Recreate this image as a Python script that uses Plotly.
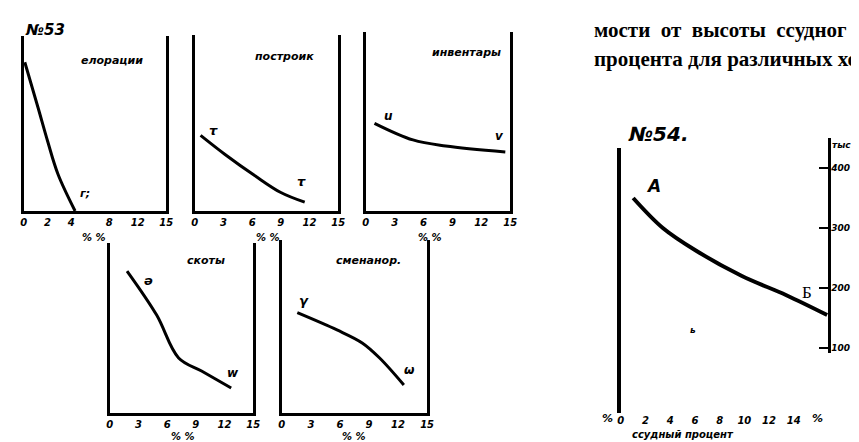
import plotly.graph_objects as go

W, H = 859, 442

# --- data ---
ticks_std = [0, 3, 6, 9, 12, 15]
ticktext_std = ["0", "3", "6", "9", "12", "15"]
p1_tickvals = [0, 2.5, 5, 9, 12, 15]
p1_ticktext = ["0", "2", "4", "8", "12", "15"]

emig_x = [0.1, 1.5, 2.5, 3.6, 5.4]
emig_y = [85, 59, 40, 21, 0]

build_x = [0.6, 3.2, 6.3, 9.0, 11.5]
build_y = [43, 32, 20, 10.5, 5]

inv_x = [0.9, 4.9, 8.3, 14.5]
inv_y = [49, 39.7, 36.3, 33]

cattle_x = [1.8, 4.9, 7.2, 9.6, 12.7]
cattle_y = [83.5, 57.6, 32.4, 24.7, 14.7]

crop_x = [1.6, 5.7, 8.3, 10.1, 12.6]
crop_y = [58, 48, 40.5, 31.8, 16.2]

loan_x = [1.0, 3.4, 6.1, 9.8, 13.4, 16.7]
loan_y = [350, 300, 262, 220, 188, 155]
loan_xticks = [0, 2, 4, 6, 8, 10, 12, 14]
loan_xtext = ["0", "2", "4", "6", "8", "10", "12", "14"]
loan_yticks = [100, 200, 300, 400]
loan_ytext = ["100", "200", "300", "400"]

hand = dict(family="DejaVu Sans", size=10, color="black", weight="bold", style="italic")
INK = "black"
CLEAR = "rgba(0,0,0,0)"


def px(x, y):
    return x / W, 1 - y / H


fig = go.Figure()

# small panels: (left, right, top, bottom) in pixels
boxes = {
    1: (13, 157, 28, 203),
    2: (186, 331, 27, 203),
    3: (359, 505, 24, 203),
    4: (100, 245, 235, 405),
    5: (274, 421, 232, 405),
}
series = {
    1: (emig_x, emig_y),
    2: (build_x, build_y),
    3: (inv_x, inv_y),
    4: (cattle_x, cattle_y),
    5: (crop_x, crop_y),
}

for i, (l, r, t, b) in boxes.items():
    sfx = "" if i == 1 else str(i)
    tv, tt = (p1_tickvals, p1_ticktext) if i == 1 else (ticks_std, ticktext_std)
    fig.update_layout({
        "xaxis" + sfx: dict(domain=[l / W, r / W], range=[0, 15], anchor="y" + sfx,
                            showline=True, linewidth=3, linecolor=INK, showgrid=False,
                            zeroline=False, tickvals=tv, ticktext=tt, ticks="",
                            tickfont=hand),
        "yaxis" + sfx: dict(domain=[1 - b / H, 1 - t / H], range=[0, 100], anchor="x" + sfx,
                            showline=True, mirror=True, linewidth=3, linecolor=INK,
                            showgrid=False, zeroline=False, showticklabels=False),
    })
    xs, ys = series[i]
    fig.add_trace(go.Scatter(x=xs, y=ys, mode="lines", line=dict(color=INK, width=3, shape="spline"),
                             xaxis="x" + sfx, yaxis="y" + sfx, showlegend=False))

# big chart No 54: left line on y6, scale on a shorter right axis y7
fig.update_layout(
    xaxis6=dict(domain=[617 / W, 827 / W], range=[0, 16.8], anchor="y6", showline=False,
                showgrid=False, zeroline=False, tickvals=loan_xticks, ticktext=loan_xtext,
                ticks="", tickfont=hand),
    yaxis6=dict(domain=[1 - 405 / H, 1 - 140 / H], range=[(400 - 405) / 0.6, (400 - 140) / 0.6],
                anchor="x6", showline=True, linewidth=4, linecolor=INK, showgrid=False,
                zeroline=False, showticklabels=False),
    xaxis7=dict(domain=[617 / W, 827 / W], range=[0, 16.8], anchor="y7", showline=False,
                showgrid=False, zeroline=False, showticklabels=False, ticks=""),
    yaxis7=dict(domain=[1 - 345 / H, 1 - 130 / H], range=[(400 - 345) / 0.6, (400 - 130) / 0.6],
                anchor="x7", side="right", showline=True, linewidth=3, linecolor=INK,
                showgrid=False, zeroline=False, tickvals=loan_yticks, ticktext=loan_ytext,
                ticks="inside", ticklen=9, tickwidth=2, tickcolor=INK, ticklabelstandoff=-2,
                tickfont=dict(hand, size=9)),
)
fig.add_trace(go.Scatter(x=[], y=[], mode="lines", xaxis="x7", yaxis="y7",
                         showlegend=False, hoverinfo="skip"))
fig.add_trace(go.Scatter(x=loan_x, y=loan_y, mode="lines", line=dict(color=INK, width=4, shape="spline"),
                         xaxis="x6", yaxis="y6", showlegend=False))

# texts: (x, y, text, size)
notes = [
    (34, 22, "№53", 15),
    (102, 52, "елорации", 11),
    (277, 48, "построик", 11),
    (461, 45, "инвентары", 11),
    (197, 253, "скоты", 11),
    (362, 253, "сменанор.", 11),
    (75, 185, "г;", 11),
    (205, 122, "τ", 13),
    (294, 174, "τ", 13),
    (382, 108, "u", 12),
    (494, 128, "v", 12),
    (139, 272, "ə", 13),
    (225, 365, "w", 12),
    (296, 292, "γ", 13),
    (403, 362, "ω", 12),
    (650, 178, "A", 17),
    (655, 126, "№54.", 20),
    (84, 229, "% %", 10),
    (260, 229, "% %", 10),
    (424, 229, "% %", 10),
    (174, 428, "% %", 10),
    (347, 428, "% %", 10),
    (604, 410, "%", 11),
    (816, 410, "%", 11),
    (840, 137, "тыс", 9),
    (690, 322, "ь", 9),
    (680, 426, "ссудный процент", 10),
]
for x, y, txt, size in notes:
    xx, yy = px(x, y)
    f = dict(hand)
    f["size"] = size
    fig.add_annotation(x=xx, y=yy, xref="paper", yref="paper", text=txt, showarrow=False,
                       font=f, xanchor="center", yanchor="middle")

xb, yb = px(812, 284)
fig.add_annotation(x=xb, y=yb, xref="paper", yref="paper", text="Б", showarrow=False,
                   font=dict(family="Liberation Serif", size=17, color=INK))

# printed book text on the right (cut by the page edge in the scan)
serif = dict(family="Liberation Serif", size=21, color=INK, weight="bold")
for y, txt in [(22, "мости  от  высоты  ссудног"), (51, "процента для различных хо")]:
    xx, yy = px(588, y)
    fig.add_annotation(x=xx, y=yy, xref="paper", yref="paper", text=txt, showarrow=False,
                       font=serif, xanchor="left", yanchor="middle")

fig.update_layout(width=W, height=H, margin=dict(l=0, r=0, t=0, b=0),
                  paper_bgcolor="white", plot_bgcolor=CLEAR, showlegend=False)

fig.write_html("out.html")
